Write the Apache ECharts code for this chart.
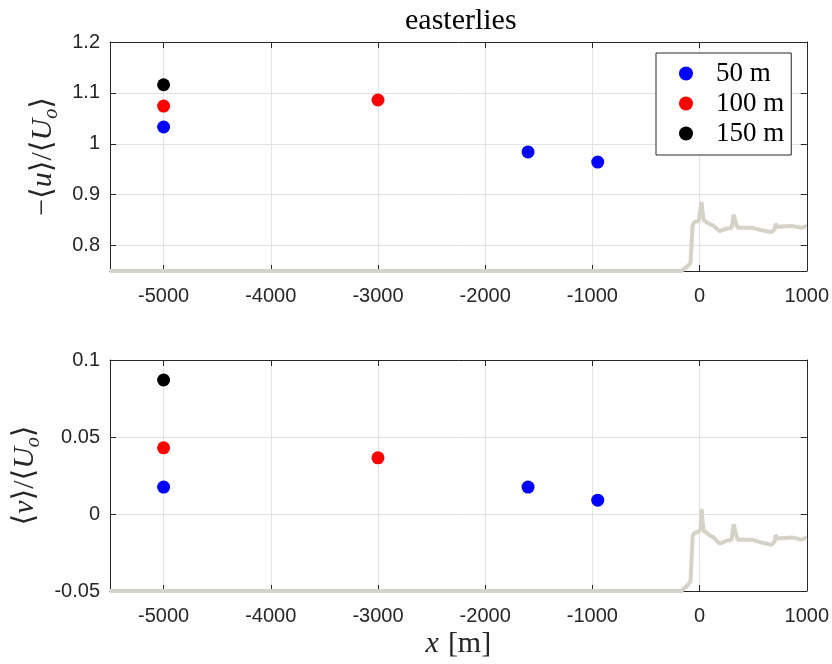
<!DOCTYPE html>
<html>
<head>
<meta charset="utf-8">
<script src="https://cdn.jsdelivr.net/npm/echarts@6/dist/echarts.min.js"></script>
<style>
  html, body { margin: 0; background: #fff; }
  #chart { width: 832px; height: 664px; }
</style>
</head>
<body>
<div id="chart"></div>
<script>
// tick positions
const xTicks = [-5000, -4000, -3000, -2000, -1000, 0, 1000];
const uTicks = [0.8, 0.9, 1, 1.1, 1.2];
const vTicks = [-0.05, 0, 0.05, 0.1];

// measurement heights
const heights = ['50 m', '100 m', '150 m'];
const colors = ['#0000ff', '#ff0000', '#000000'];

const x50 = [-5000, -1600, -950];
const u50 = [1.033, 0.984, 0.964];
const v50 = [0.0175, 0.0175, 0.009];

const x100 = [-5000, -3000];
const u100 = [1.074, 1.086];
const v100 = [0.043, 0.0365];

const x150 = [-5000];
const u150 = [1.116];
const v150 = [0.087];

// terrain profile (relative elevation)
const terrainX = [-5500, -170, -112, -84, -65, -47, -9, 9, 19, 28, 37, 93, 131, 187, 243, 299, 318, 336, 355, 486, 579, 673, 701, 710, 729, 860, 953, 1000];
const terrainH = [0, 0, 0.1, 0.17, 0.96, 1.02, 1.04, 1.08, 1.44, 1.23, 1.06, 0.98, 0.94, 0.83, 0.875, 0.9, 1.17, 1.02, 0.9, 0.9, 0.85, 0.81, 0.875, 0.98, 0.92, 0.94, 0.9, 0.94];

const axisColor = '#262626';
const gridColor = '#e3e3e3';
const sansFont = 'Liberation Sans, Arial, Helvetica, sans-serif';
const serifFont = 'Liberation Serif, DejaVu Serif, serif';

const chart = echarts.init(document.getElementById('chart'), null, { renderer: 'canvas' });

const plainNumber = v => String(Math.round(v * 1000) / 1000);

function xAxisPair(gridIndex, showName) {
    const base = {
        type: 'value',
        gridIndex,
        min: -5500,
        max: 1000,
        axisLine: { show: true, onZero: false, lineStyle: { color: axisColor, width: 1 } },
        axisTick: { show: true, inside: true, length: 6, customValues: xTicks, lineStyle: { color: axisColor } },
        splitLine: { show: false }
    };
    return [
        Object.assign({}, base, {
            position: 'bottom',
            axisLabel: { customValues: xTicks, formatter: plainNumber, margin: 15, fontSize: 20, color: axisColor, fontFamily: sansFont },
            splitLine: { show: true, customValues: xTicks, lineStyle: { color: gridColor, width: 1 } },
            name: showName ? '{i|x}{n|[m]}' : '',
            nameLocation: 'middle',
            nameGap: 38,
            nameTextStyle: {
                rich: {
                    i: { fontFamily: serifFont, fontStyle: 'italic', fontSize: 30, color: axisColor },
                    n: { fontFamily: serifFont, fontSize: 30, color: axisColor, padding: [0, 0, 0, 9] }
                }
            }
        }),
        Object.assign({}, base, {
            position: 'top',
            axisLabel: { show: false }
        })
    ];
}

function yAxisSet(gridIndex, min, max, ticks, name, nameGap, terrainMax) {
    const base = {
        type: 'value',
        gridIndex,
        min,
        max,
        axisLine: { show: true, onZero: false, lineStyle: { color: axisColor, width: 1 } },
        axisTick: { show: true, inside: true, length: 6, customValues: ticks, lineStyle: { color: axisColor } },
        splitLine: { show: false }
    };
    return [
        Object.assign({}, base, {
            position: 'left',
            axisLabel: { customValues: ticks, formatter: plainNumber, margin: 10, fontSize: 20, color: axisColor, fontFamily: sansFont },
            splitLine: { show: true, customValues: ticks, lineStyle: { color: gridColor, width: 1 } },
            name,
            nameLocation: 'middle',
            nameRotate: 90,
            nameGap,
            nameTextStyle: {
                rich: {
                    n: { fontFamily: serifFont, fontSize: 30, color: axisColor, lineHeight: 36, verticalAlign: 'middle' },
                    i: { fontFamily: serifFont, fontStyle: 'italic', fontSize: 30, color: axisColor, lineHeight: 36, verticalAlign: 'middle' },
                    s: { fontFamily: serifFont, fontStyle: 'italic', fontSize: 20, color: axisColor, lineHeight: 36, verticalAlign: 'bottom' }
                }
            }
        }),
        Object.assign({}, base, {
            position: 'right',
            axisLabel: { show: false }
        }),
        { type: 'value', gridIndex, min: 0, max: terrainMax, show: false }
    ];
}

function scatter(name, color, xs, ys, xIdx, yIdx) {
    return {
        type: 'scatter',
        name,
        xAxisIndex: xIdx,
        yAxisIndex: yIdx,
        data: xs.map((x, i) => [x, ys[i]]),
        symbol: 'circle',
        symbolSize: 13,
        itemStyle: { color, opacity: 1 },
        z: 4
    };
}

function terrain(xIdx, yIdx) {
    return {
        type: 'line',
        name: 'terrain',
        xAxisIndex: xIdx,
        yAxisIndex: yIdx,
        data: terrainX.map((x, i) => [x, terrainH[i]]),
        showSymbol: false,
        symbol: 'none',
        lineStyle: { color: '#d5d2c7', width: 4 },
        z: 3,
        silent: true
    };
}

const option = {
    backgroundColor: '#ffffff',
    animation: false,
    title: {
        text: 'easterlies',
        left: 400,
        top: 1,
        textStyle: { fontFamily: serifFont, fontSize: 30, fontWeight: 'normal', color: '#000' }
    },
    legend: {
        data: heights.map((h, i) => ({ name: h, itemStyle: { color: colors[i], opacity: 1 } })),
        orient: 'vertical',
        left: 656,
        top: 53,
        icon: 'circle',
        itemWidth: 14,
        itemHeight: 14,
        itemGap: 3,
        padding: [7, 7, 8, 23],
        backgroundColor: '#ffffff',
        borderColor: axisColor,
        borderWidth: 1,
        borderRadius: 0,
        textStyle: { fontFamily: serifFont, fontSize: 27, color: '#000', lineHeight: 26, padding: [0, 0, 0, 18] }
    },
    grid: [
        { left: 110, top: 42, width: 697, height: 229 },
        { left: 110, top: 360, width: 697, height: 231 }
    ],
    xAxis: [...xAxisPair(0, false), ...xAxisPair(1, true)],
    yAxis: [
        ...yAxisSet(0, 0.75, 1.2, uTicks, '{n|−⟨}{i|u}{n|⟩/⟨}{i|U}{s|o}{n|⟩}', 45, 229 / 48),
        ...yAxisSet(1, -0.05, 0.1, vTicks, '{n|⟨}{i|v}{n|⟩/⟨}{i|U}{s|o}{n|⟩}', 61, 231 / 57)
    ],
    series: [
        terrain(0, 2),
        terrain(2, 5),
        scatter(heights[0], colors[0], x50, u50, 0, 0),
        scatter(heights[1], colors[1], x100, u100, 0, 0),
        scatter(heights[2], colors[2], x150, u150, 0, 0),
        scatter(heights[0], colors[0], x50, v50, 2, 3),
        scatter(heights[1], colors[1], x100, v100, 2, 3),
        scatter(heights[2], colors[2], x150, v150, 2, 3)
    ]
};

chart.setOption(option);
</script>
</body>
</html>
